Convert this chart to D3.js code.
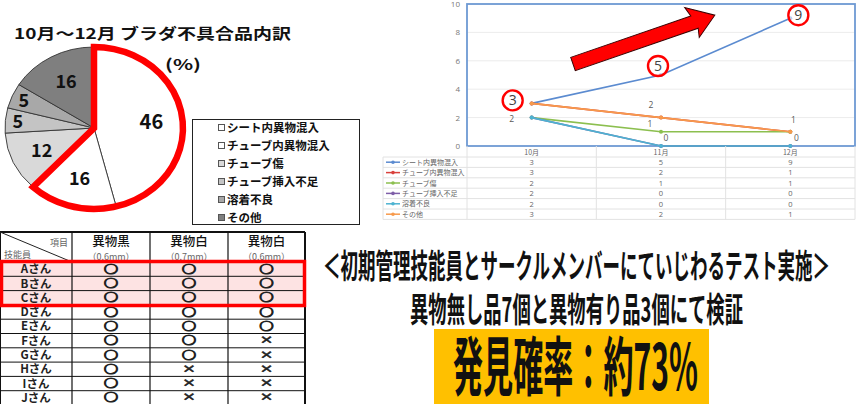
<!DOCTYPE html>
<html>
<head>
<meta charset="utf-8">
<script src="https://cdn.jsdelivr.net/npm/d3@7"></script>
<style>
  body { margin: 0; background: #fff; }
  svg { display: block; }
  text { font-family: "Noto Sans CJK JP", "Noto Sans", sans-serif; }
</style>
</head>
<body>
<svg id="chart" width="862" height="404"></svg>
<script>
// --- data ---
const causes = ['シート内異物混入', 'チューブ内異物混入', 'チューブ傷', 'チューブ挿入不足', '溶着不良', 'その他'];
const pieValues = [46, 16, 12, 5, 5, 16];
const months = ['10月', '11月', '12月'];
const trend = [
    [3, 5, 9],
    [3, 2, 1],
    [2, 1, 1],
    [2, 0, 0],
    [2, 0, 0],
    [3, 2, 1]
];
const yTicks = [0, 2, 4, 6, 8, 10];
// labels shown on the line chart: [series, month]
const circledLabels = [[0, 0], [0, 1], [0, 2]];
const plainLabels = [[2, 0], [5, 1], [2, 1], [4, 1], [5, 2], [4, 2]];

const staff = ['Aさん', 'Bさん', 'Cさん', 'Dさん', 'Eさん', 'Fさん', 'Gさん', 'Hさん', 'Iさん', 'Jさん'];
const testItems = ['異物黒', '異物白', '異物白'];
const testSizes = ['（0.6mm）', '（0.7mm）', '（0.6mm）'];
const results = [
    ['○', '○', '○'],
    ['○', '○', '○'],
    ['○', '○', '○'],
    ['○', '○', '○'],
    ['○', '○', '○'],
    ['○', '○', '×'],
    ['○', '○', '×'],
    ['○', '×', '×'],
    ['○', '×', '×'],
    ['○', '×', '×']
];
const headline1 = '＜初期管理技能員とサークルメンバーにていじわるテスト実施＞';
const headline2 = '異物無し品7個と異物有り品3個にて検証';
const headline3 = '発見確率：約73%';

const pieColors = ['#ffffff', '#ffffff', '#d9d9d9', '#c4c4c4', '#a8a8a8', '#7f7f7f'];
const lineColors = ['#5b8bd0', '#d9413c', '#8cbf4f', '#7e5ea8', '#4db3d1', '#f79a4c'];

const svg = d3.select('#chart');

// ---------- pie ----------
const pieG = svg.append('g');
pieG.append('text')
    .attr('x', 14).attr('y', 39)
    .attr('font-size', 15).attr('font-weight', 700).attr('fill', '#111')
    .attr('textLength', 277).attr('lengthAdjust', 'spacingAndGlyphs')
    .text('10月～12月  ブラダ不具合品内訳');
pieG.append('text')
    .attr('x', 165).attr('y', 70)
    .attr('font-size', 15).attr('font-weight', 700).attr('fill', '#111')
    .attr('textLength', 36).attr('lengthAdjust', 'spacingAndGlyphs')
    .text('(%)');

const cx = 94, cy = 128, rx = 89, ry = 81;
const arcs = d3.pie().sort(null).value(d => d)(pieValues);
const unitArc = d3.arc().innerRadius(0).outerRadius(1);

const slices = pieG.append('g')
    .attr('transform', `translate(${cx},${cy}) scale(${rx},${ry})`);
slices.selectAll('path.slice')
    .data(arcs)
    .join('path')
    .attr('class', 'slice')
    .attr('d', unitArc)
    .attr('fill', (d, i) => pieColors[i])
    .attr('stroke', '#333')
    .attr('stroke-width', 0.9)
    .attr('vector-effect', 'non-scaling-stroke');

// red outline round the first two causes
slices.append('path')
    .attr('d', unitArc({ startAngle: 0, endAngle: arcs[1].endAngle }))
    .attr('fill', 'none')
    .attr('stroke', '#ff0000')
    .attr('stroke-width', 6.5)
    .attr('stroke-linejoin', 'miter')
    .attr('vector-effect', 'non-scaling-stroke');

pieG.selectAll('text.pct')
    .data(arcs)
    .join('text')
    .attr('class', 'pct')
    .attr('x', d => {
        const a = (d.startAngle + d.endAngle) / 2, f = d.value < 10 ? 0.86 : 0.65;
        return cx + Math.sin(a) * rx * f;
    })
    .attr('y', d => {
        const a = (d.startAngle + d.endAngle) / 2, f = d.value < 10 ? 0.86 : 0.65;
        return cy - Math.cos(a) * ry * f;
    })
    .attr('dy', '0.36em')
    .attr('text-anchor', 'middle')
    .attr('font-size', d => d.value > 40 ? 20 : 18)
    .attr('font-weight', 700)
    .attr('fill', '#111')
    .text(d => d.value);

// legend
const lg = pieG.append('g');
lg.append('rect')
    .attr('x', 192.5).attr('y', 119.5).attr('width', 167).attr('height', 105)
    .attr('fill', '#fff').attr('stroke', '#222');
const lgItem = lg.selectAll('g.item')
    .data(causes)
    .join('g')
    .attr('class', 'item')
    .attr('transform', (d, i) => `translate(218,${128 + i * 18})`);
lgItem.append('rect')
    .attr('x', 0.5).attr('y', -3.5).attr('width', 6).attr('height', 6)
    .attr('fill', (d, i) => pieColors[i])
    .attr('stroke', '#555');
lgItem.append('text')
    .attr('x', 9).attr('dy', '0.36em')
    .attr('font-size', 11.5).attr('font-weight', 700).attr('fill', '#111')
    .text(d => d);

// ---------- line chart ----------
const plot = { left: 467, right: 855, top: 4, bottom: 146 };
const x = d3.scaleBand().domain(months).range([plot.left, plot.right]);
const y = d3.scaleLinear().domain([0, 10]).range([plot.bottom, plot.top]);
const lc = svg.append('g');

lc.append('g')
    .selectAll('line')
    .data(yTicks.slice(1))
    .join('line')
    .attr('x1', plot.left).attr('x2', plot.right)
    .attr('y1', d => y(d)).attr('y2', d => y(d))
    .attr('stroke', '#ececec');

const yAxis = lc.append('g')
    .attr('transform', `translate(${plot.left - 6},0)`)
    .call(d3.axisLeft(y).tickValues(yTicks).tickSize(0).tickPadding(1));
yAxis.select('.domain').remove();
yAxis.selectAll('text')
    .attr('font-size', 8).attr('fill', '#777')
    .style('font-family', '"Open Sans", sans-serif');

lc.append('rect')
    .attr('x', plot.left).attr('y', plot.top)
    .attr('width', plot.right - plot.left).attr('height', plot.bottom - plot.top)
    .attr('fill', 'none').attr('stroke', '#6e9ad3').attr('stroke-width', 1.8);

const line = d3.line()
    .x((d, i) => x(months[i]) + x.bandwidth() / 2)
    .y(d => y(d));
trend.forEach((vals, s) => {
    lc.append('path')
        .attr('d', line(vals))
        .attr('fill', 'none')
        .attr('stroke', lineColors[s])
        .attr('stroke-width', 1.6);
    lc.selectAll(null)
        .data(vals)
        .join('circle')
        .attr('cx', (d, i) => x(months[i]) + x.bandwidth() / 2)
        .attr('cy', d => y(d))
        .attr('r', 2)
        .attr('fill', lineColors[s]);
});

// big red arrow
const arrowPts = [[0, -7], [127, -7], [124, -17], [150, 0], [128, 16], [130, 7], [0, 7]];
lc.append('polygon')
    .attr('points', arrowPts.map(p => p.join(',')).join(' '))
    .attr('transform', 'translate(573,64) rotate(-19)')
    .attr('fill', '#ff0000')
    .attr('stroke', '#3a0000')
    .attr('stroke-width', 1);

const px = (m) => x(months[m]) + x.bandwidth() / 2;
const plainOffsets = [[-20, 1], [-10, -12.5], [-11, -8], [5, -8], [3, -12], [6, -8]];
lc.selectAll('text.dl')
    .data(plainLabels)
    .join('text')
    .attr('class', 'dl')
    .attr('x', (d, i) => px(d[1]) + plainOffsets[i][0])
    .attr('y', (d, i) => y(trend[d[0]][d[1]]) + plainOffsets[i][1])
    .attr('dy', '0.36em')
    .attr('text-anchor', 'middle')
    .attr('font-size', 8.5).attr('fill', '#595959')
    .style('font-family', '"Open Sans", sans-serif')
    .text(d => trend[d[0]][d[1]]);

const circledOffsets = [[-19, -3], [-3, -9], [8, -3]];
const cl = lc.selectAll('g.cl')
    .data(circledLabels)
    .join('g')
    .attr('class', 'cl')
    .attr('transform', (d, i) =>
        `translate(${px(d[1]) + circledOffsets[i][0]},${y(trend[d[0]][d[1]]) + circledOffsets[i][1]})`);
cl.append('circle')
    .attr('r', 10)
    .attr('fill', '#fff')
    .attr('fill-opacity', 0.6)
    .attr('stroke', '#ff0000')
    .attr('stroke-width', 2.4);
cl.append('text')
    .attr('dy', '0.36em')
    .attr('text-anchor', 'middle')
    .attr('font-size', 14).attr('fill', '#444')
    .style('font-family', '"Open Sans", sans-serif')
    .text(d => trend[d[0]][d[1]]);

// data table under the chart
const tb = { left: 383, top: 146, headH: 11, rowH: 10.4 };
const tg = svg.append('g');
const colEdges = [tb.left, plot.left].concat(months.map(m => x(m) + x.bandwidth()));
const tableBottom = tb.top + tb.headH + causes.length * tb.rowH;
const rowEdges = d3.range(causes.length + 1).map(i => tb.top + tb.headH + i * tb.rowH);
tg.selectAll('line.h')
    .data(rowEdges)
    .join('line')
    .attr('x1', tb.left)
    .attr('x2', plot.right)
    .attr('y1', d => d).attr('y2', d => d)
    .attr('stroke', '#e2e2e2');
tg.selectAll('line.v')
    .data(colEdges)
    .join('line')
    .attr('x1', d => d).attr('x2', d => d)
    .attr('y1', (d, i) => i === 0 ? tb.top + tb.headH : tb.top)
    .attr('y2', tableBottom)
    .attr('stroke', '#e2e2e2');
tg.selectAll('text.mh')
    .data(months)
    .join('text')
    .attr('x', d => x(d) + x.bandwidth() / 2)
    .attr('y', tb.top + tb.headH / 2 + 1)
    .attr('dy', '0.36em')
    .attr('text-anchor', 'middle')
    .attr('font-size', 7).attr('fill', '#666')
    .text(d => d);
const trow = tg.selectAll('g.tr')
    .data(causes)
    .join('g')
    .attr('transform', (d, i) => `translate(0,${rowEdges[i] + tb.rowH / 2})`);
trow.append('line')
    .attr('x1', 386).attr('x2', 400)
    .attr('stroke', (d, i) => lineColors[i]).attr('stroke-width', 1.5);
trow.append('circle')
    .attr('cx', 393).attr('r', 1.8)
    .attr('fill', (d, i) => lineColors[i]);
trow.append('text')
    .attr('x', 402).attr('dy', '0.36em')
    .attr('font-size', 7).attr('fill', '#666')
    .text(d => d);
trow.selectAll('text.v')
    .data((d, i) => trend[i])
    .join('text')
    .attr('x', (d, i) => px(i))
    .attr('dy', '0.36em')
    .attr('text-anchor', 'middle')
    .attr('font-size', 7.5).attr('fill', '#666')
    .style('font-family', '"Open Sans", sans-serif')
    .text(d => d);

// ---------- test result table ----------
const rt = { top: 232, headH: 30, rowH: 14.3 };
const cols = [0, 72, 150, 228, 305];
const rg = svg.append('g');
const rowTop = i => rt.top + rt.headH + i * rt.rowH;

rg.append('rect')
    .attr('x', 0).attr('y', rowTop(0))
    .attr('width', cols[4]).attr('height', rt.rowH * 3)
    .attr('fill', '#fde3e3');
rg.selectAll('line.rh')
    .data(d3.range(staff.length + 1))
    .join('line')
    .attr('x1', 0).attr('x2', cols[4])
    .attr('y1', d => rowTop(d)).attr('y2', d => rowTop(d))
    .attr('stroke', '#111').attr('stroke-width', 1);
rg.append('line')
    .attr('x1', 0).attr('x2', cols[4])
    .attr('y1', rt.top).attr('y2', rt.top)
    .attr('stroke', '#111').attr('stroke-width', 2);
rg.selectAll('line.rv')
    .data(cols)
    .join('line')
    .attr('x1', d => d).attr('x2', d => d)
    .attr('y1', rt.top).attr('y2', 404)
    .attr('stroke', '#111')
    .attr('stroke-width', (d, i) => i === 0 || i === 4 ? 2 : 1.2);
rg.append('line')
    .attr('x1', 0).attr('y1', rt.top)
    .attr('x2', cols[1]).attr('y2', rowTop(0))
    .attr('stroke', '#222');
rg.append('text')
    .attr('x', 68).attr('y', 246)
    .attr('text-anchor', 'end')
    .attr('font-size', 9).attr('fill', '#666')
    .text('項目');
rg.append('text')
    .attr('x', 4).attr('y', 258)
    .attr('font-size', 9).attr('fill', '#666')
    .text('技能員');
testItems.forEach((t, j) => {
    const mx = (cols[j + 1] + cols[j + 2]) / 2;
    rg.append('text')
        .attr('x', mx).attr('y', 245.5)
        .attr('text-anchor', 'middle')
        .attr('font-size', 12.5).attr('font-weight', 500).attr('fill', '#111')
        .text(t);
    rg.append('text')
        .attr('x', mx).attr('y', 259.5)
        .attr('text-anchor', 'middle')
        .attr('font-size', 9).attr('fill', '#666')
        .text(testSizes[j]);
});
const srow = rg.selectAll('g.sr')
    .data(staff)
    .join('g')
    .attr('transform', (d, i) => `translate(0,${rowTop(i) + rt.rowH / 2})`);
srow.append('text')
    .attr('x', cols[1] / 2).attr('dy', '0.36em')
    .attr('text-anchor', 'middle')
    .attr('font-size', 11.5).attr('font-weight', 700).attr('fill', '#222')
    .text(d => d);
srow.selectAll('text.mk')
    .data((d, i) => results[i])
    .join('text')
    .attr('x', (d, j) => (cols[j + 1] + cols[j + 2]) / 2 - 7)
    .attr('dy', '0.36em')
    .attr('font-size', 10)
    .attr('textLength', 14).attr('lengthAdjust', 'spacingAndGlyphs')
    .attr('font-weight', 700).attr('fill', '#222')
    .attr('stroke', '#222')
    .attr('stroke-width', d => d === '○' ? 1.1 : 0.5)
    .text(d => d);
rg.append('rect')
    .attr('x', 1.5).attr('y', 261.5)
    .attr('width', 303).attr('height', 44)
    .attr('fill', 'none').attr('stroke', '#ff0000').attr('stroke-width', 3.5);

// ---------- headline text ----------
const hg = svg.append('g');
hg.append('text')
    .attr('x', 323).attr('y', 278)
    .attr('font-size', 33).attr('font-weight', 700).attr('fill', '#111')
    .attr('textLength', 507).attr('lengthAdjust', 'spacingAndGlyphs')
    .text(headline1);
hg.append('text')
    .attr('x', 410).attr('y', 322)
    .attr('font-size', 34).attr('font-weight', 700).attr('fill', '#111')
    .attr('textLength', 333).attr('lengthAdjust', 'spacingAndGlyphs')
    .text(headline2);
hg.append('rect')
    .attr('x', 434).attr('y', 329)
    .attr('width', 275).attr('height', 75)
    .attr('fill', '#ffc000');
hg.append('text')
    .attr('x', 453).attr('y', 390)
    .attr('font-size', 64).attr('font-weight', 700).attr('fill', '#111')
    .attr('textLength', 245).attr('lengthAdjust', 'spacingAndGlyphs')
    .text(headline3);
</script>
</body>
</html>
